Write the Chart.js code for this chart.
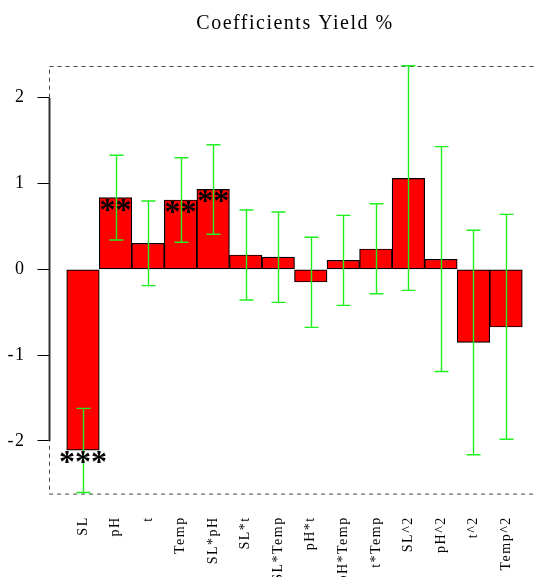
<!DOCTYPE html>
<html>
<head>
<meta charset="utf-8">
<script src="https://cdn.jsdelivr.net/npm/chart.js@4/dist/chart.umd.min.js"></script>
<style>
  html, body { margin: 0; padding: 0; background: #ffffff; overflow: hidden; }
  #wrap { width: 590px; height: 577px; }
</style>
</head>
<body>
<div id="wrap"><canvas id="c" width="590" height="577"></canvas></div>
<script>
// ---- data ----
const categories = ['SL','pH','t','Temp','SL*pH','SL*t','SL*Temp','pH*t','pH*Temp','t*Temp','SL^2','pH^2','t^2','Temp^2'];
const coefficients = [-2.106, 0.835, 0.303, 0.808, 0.932, 0.167, 0.143, -0.148, 0.105, 0.237, 1.060, 0.117, -0.851, -0.672];
const lowerCI = [-2.600, 0.341, -0.190, 0.315, 0.408, -0.358, -0.385, -0.676, -0.420, -0.284, -0.245, -1.190, -2.160, -1.980];
const upperCI = [-1.620, 1.329, 0.796, 1.300, 1.452, 0.691, 0.668, 0.373, 0.629, 0.765, 2.373, 1.430, 0.455, 0.641];
const significance = ['***','**','','**','**','','','','','','','','',''];
const yTickValues = [-2, -1, 0, 1, 2];
const titleText = 'Coefficients Yield %';

const SERIF = "'Liberation Serif', 'DejaVu Serif', serif";

const spacingPlugin = {
  id: 'spacing',
  beforeUpdate(chart) { chart.ctx.letterSpacing = '1.5px'; },
  beforeDraw(chart) { chart.ctx.letterSpacing = '1.5px'; }
};

const framePlugin = {
  id: 'frame',
  beforeDatasetsDraw(chart) {
    const { ctx, chartArea: a, scales: { y } } = chart;
    ctx.save();
    ctx.strokeStyle = '#444444';
    ctx.lineWidth = 1;
    ctx.setLineDash([4, 4]);
    ctx.strokeRect(Math.round(a.left) + 0.5, Math.round(a.top) + 0.5, a.right - a.left, a.bottom - a.top);
    ctx.setLineDash([]);
    ctx.strokeStyle = '#333333';
    ctx.lineWidth = 2;
    ctx.beginPath();
    const x = Math.round(a.left) + 0.5;
    ctx.moveTo(x, y.getPixelForValue(yTickValues[yTickValues.length - 1]));
    ctx.lineTo(x, y.getPixelForValue(yTickValues[0]));
    ctx.stroke();
    ctx.restore();
  }
};

const errorPlugin = {
  id: 'errbars',
  afterDatasetsDraw(chart) {
    const { ctx, chartArea: a, scales: { x, y } } = chart;
    ctx.save();
    ctx.beginPath();
    ctx.rect(a.left, a.top - 1, a.right - a.left, a.bottom - a.top + 2);
    ctx.clip();
    ctx.strokeStyle = '#1ef01e';
    ctx.lineWidth = 1.4;
    categories.forEach((c, i) => {
      const px = Math.round(x.getPixelForValue(i)) + 0.5;
      const yl = y.getPixelForValue(lowerCI[i]);
      const yu = y.getPixelForValue(upperCI[i]);
      ctx.beginPath();
      ctx.moveTo(px, yl); ctx.lineTo(px, yu);
      ctx.moveTo(px - 7, yl); ctx.lineTo(px + 7, yl);
      ctx.moveTo(px - 7, yu); ctx.lineTo(px + 7, yu);
      ctx.stroke();
    });
    ctx.restore();

    ctx.save();
    ctx.letterSpacing = '0px';
    ctx.fillStyle = '#000000';
    ctx.font = "bold 32px " + SERIF;
    ctx.textAlign = 'center';
    ctx.textBaseline = 'alphabetic';
    categories.forEach((c, i) => {
      if (!significance[i]) return;
      const px = x.getPixelForValue(i);
      const py = y.getPixelForValue(coefficients[i]);
      ctx.fillText(significance[i], px, py + 22);
    });
    ctx.restore();
  }
};

new Chart(document.getElementById('c'), {
  type: 'bar',
  data: {
    datasets: [{
      data: coefficients.map((v, i) => ({ x: i, y: v })),
      backgroundColor: '#ff0000',
      borderColor: '#000000',
      borderWidth: 1.2,
      borderSkipped: false,
      barPercentage: 1.0,
      categoryPercentage: 1.0
    }]
  },
  options: {
    responsive: false,
    animation: false,
    devicePixelRatio: 1,
    layout: { padding: 0 },
    plugins: {
      legend: { display: false },
      tooltip: { enabled: false },
      title: {
        display: true,
        text: titleText,
        color: '#000000',
        font: { family: SERIF, size: 20, weight: 'normal' },
        padding: { top: 11.3, bottom: 30.4 }
      }
    },
    scales: {
      x: {
        type: 'linear',
        min: -1.06,
        max: 14.06,
        offset: false,
        grid: { display: false, drawTicks: false },
        border: { display: false },
        afterBuildTicks: s => { s.ticks = categories.map((c, i) => ({ value: i })); },
        afterFit: s => { s.height = 83.7; },
        ticks: {
          autoSkip: false,
          minRotation: 90,
          maxRotation: 90,
          padding: 23,
          color: '#000000',
          font: { family: SERIF, size: 14 },
          callback: v => categories[v] ?? ''
        }
      },
      y: {
        type: 'linear',
        min: -2.61,
        max: 2.373,
        afterBuildTicks: s => { s.ticks = yTickValues.map(v => ({ value: v })); },
        afterFit: s => { s.width = 48.5; },
        grid: { display: true, drawOnChartArea: false, drawTicks: true, tickLength: 11, color: '#000000', lineWidth: 1 },
        border: { display: false },
        ticks: {
          padding: 12,
          color: '#000000',
          font: { family: SERIF, size: 18 },
          callback: v => String(v)
        }
      },
      yr: {
        type: 'linear',
        position: 'right',
        display: true,
        grid: { display: false, drawTicks: false },
        border: { display: false },
        ticks: { display: false },
        afterFit: s => { s.width = 49.5; }
      }
    }
  },
  plugins: [spacingPlugin, framePlugin, errorPlugin]
});
</script>
</body>
</html>
